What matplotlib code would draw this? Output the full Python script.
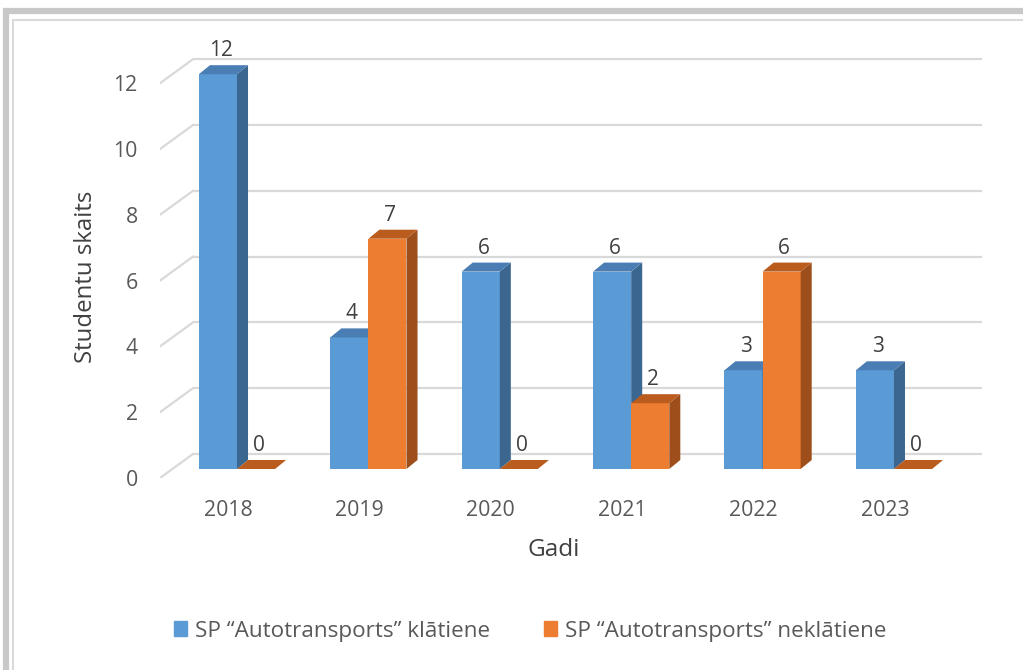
import matplotlib
matplotlib.use('Agg')
import matplotlib.pyplot as plt
from matplotlib.patches import Rectangle

years = ['2018', '2019', '2020', '2021', '2022', '2023']
klatiene = [12, 4, 6, 6, 3, 3]
neklatiene = [0, 7, 0, 2, 6, 0]
series_names = ['SP \u201cAutotransports\u201d klātiene', 'SP \u201cAutotransports\u201d neklātiene']
y_ticks = [0, 2, 4, 6, 8, 10, 12]

plt.rcParams['font.family'] = ['Open Sans', 'DejaVu Sans']
txt = '#595959'

# colours: front, side, top
blue = ('#5B9BD5', '#3A6690', '#4A7DB3')
orange = ('#ED7D31', '#9E4E1B', '#B95C1E')

W, H = 1023, 670
fig = plt.figure(figsize=(W / 100, H / 100), dpi=100)

# axes placed in pixel terms (left 160, right 990, top 40, bottom 478)
ax = fig.add_axes([160 / W, (H - 478) / H, 830 / W, 438 / H])
ax.set_xlim(-0.586, 5.731)
ax.set_ylim(-0.2736, 13.04)
for s in ax.spines.values():
    s.set_visible(False)

bw = 0.29          # bar width
bdx, bdy = 0.084, 0.274   # bar depth
wdx, wdy = 0.251, 0.73    # wall depth
grid_c = '#D9D9D9'

# back wall + side wall gridlines
x0, x1 = -0.586, 5.670
for v in y_ticks:
    ax.plot([x0 + wdx, x1], [v + 0.456, v + 0.456], color=grid_c, lw=1.6, zorder=0,
            solid_capstyle='butt')
    ax.plot([x0, x0 + wdx], [v - 0.2736, v + 0.456], color=grid_c, lw=1.6, zorder=0)

x = list(range(len(years)))

def bars3d(xs, vals, cols, z):
    ax.bar(xs, vals, width=bw, align='edge', color=cols[0], zorder=z, linewidth=0)
    for xi, v in zip(xs, vals):
        # side face
        ax.fill([xi + bw, xi + bw + bdx, xi + bw + bdx, xi + bw],
                [0, bdy, v + bdy, v], color=cols[1], zorder=z, lw=0)
        # top face
        ax.fill([xi, xi + bw, xi + bw + bdx, xi + bdx],
                [v, v, v + bdy, v + bdy], color=cols[2], zorder=z, lw=0)
        ax.text(xi + bw / 2 + 0.02, v + bdy + 0.12, str(v), ha='center', va='bottom',
                fontsize=15, color='#404040', zorder=10)

for i in x:
    bars3d([i - bw], [klatiene[i]], blue, 2 + 2 * i)
    bars3d([i], [neklatiene[i]], orange, 3 + 2 * i)

ax.set_yticks([v - 0.2736 for v in y_ticks])
ax.set_yticklabels([str(v) for v in y_ticks])
ax.set_xticks([i - 0.068 for i in x])
ax.set_xticklabels(years)
ax.tick_params(length=0, labelsize=15.3, labelcolor=txt)
ax.tick_params(axis='y', pad=16)
ax.tick_params(axis='x', pad=16)

fig.text(86 / W, 1 - 277 / H, 'Studentu skaits', rotation=90, ha='center', va='center',
         fontsize=17.3, color='#404040')
fig.text(554 / W, 1 - 550 / H, 'Gadi', ha='center', va='center', fontsize=17.6, color='#404040')

h1 = Rectangle((0, 0), 1, 1, color=blue[0])
h2 = Rectangle((0, 0), 1, 1, color=orange[0])
fig.legend([h1, h2], series_names, loc='center', bbox_to_anchor=(530 / W, 1 - 631 / H),
           ncol=2, frameon=False, fontsize=16.2, labelcolor=txt, handlelength=0.6,
           handleheight=0.6, handletextpad=0.33, columnspacing=2.4)

# frame around the chart
fig.patches.append(Rectangle((5.5 / W, -0.1), 1.1, (H - 11) / H + 0.1, transform=fig.transFigure,
                             fill=False, ec='#C8C8C8', lw=4.5))
fig.patches.append(Rectangle((13 / W, -0.1), 1.1, (H - 20) / H + 0.1, transform=fig.transFigure,
                             fill=False, ec='#DADADA', lw=1.5))

fig.savefig('out.png', dpi=100, facecolor='white')
